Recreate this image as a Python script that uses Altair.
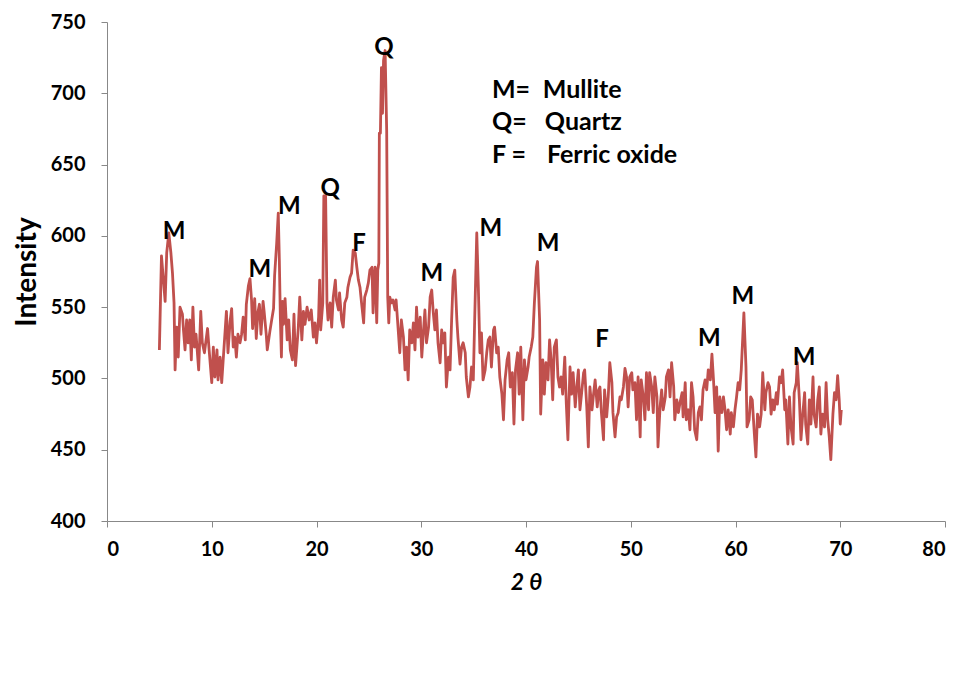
import altair as alt
import pandas as pd

two_theta = [
    5.0, 5.2, 5.55, 5.7, 5.9, 6.1, 6.25, 6.4, 6.5, 6.65, 6.8, 6.97, 7.2, 7.3, 7.45, 7.6, 7.75, 7.9,
    8.05, 8.2, 8.35, 8.5, 8.75, 8.95, 9.1, 9.3, 9.6, 9.75, 10.0, 10.15, 10.3, 10.5, 10.6, 10.8, 10.95,
    11.2, 11.4, 11.55, 11.75, 11.9, 12.05, 12.2, 12.35, 12.5, 12.7, 12.85, 13.0, 13.2, 13.3, 13.5,
    13.65, 13.8, 13.9, 14.1, 14.25, 14.4, 14.55, 14.7, 14.9, 15.0, 15.2, 15.3, 15.55, 15.7, 15.9,
    16.0, 16.2, 16.35, 16.45, 16.55, 16.65, 16.75, 16.85, 17.0, 17.2, 17.35, 17.5, 17.7, 17.85, 18.0,
    18.25, 18.4, 18.6, 18.75, 18.9, 19.1, 19.3, 19.5, 19.7, 19.85, 20.0, 20.2, 20.3, 20.4, 20.6,
    20.7, 20.87, 21.0, 21.1, 21.3, 21.45, 21.6, 21.8, 21.9, 22.1, 22.2, 22.4, 22.55, 22.7, 22.9,
    23.0, 23.2, 23.35, 23.5, 23.7, 23.85, 24.0, 24.15, 24.3, 24.5, 24.6, 24.8, 24.95, 25.1, 25.3,
    25.4, 25.5, 25.6, 25.75, 25.85, 25.95, 26.0, 26.1, 26.2, 26.3, 26.4, 26.55, 26.7, 26.8, 26.9,
    27.0, 27.15, 27.3, 27.5, 27.6, 27.8, 27.95, 28.1, 28.3, 28.45, 28.6, 28.75, 28.9, 29.1, 29.25,
    29.4, 29.55, 29.7, 29.9, 30.05, 30.2, 30.35, 30.5, 30.7, 30.85, 31.0, 31.15, 31.3, 31.45, 31.6,
    31.8, 31.95, 32.1, 32.25, 32.4, 32.6, 32.75, 32.9, 33.05, 33.2, 33.4, 33.5, 33.7, 33.85, 34.0,
    34.2, 34.3, 34.5, 34.65, 34.8, 34.97, 35.1, 35.3, 35.45, 35.6, 35.75, 35.9, 36.1, 36.25, 36.4,
    36.55, 36.7, 36.9, 37.0, 37.2, 37.35, 37.5, 37.7, 37.85, 38.0, 38.2, 38.35, 38.5, 38.7, 38.85,
    39.0, 39.2, 39.35, 39.5, 39.7, 39.85, 40.0, 40.2, 40.3, 40.5, 40.65, 40.8, 41.0, 41.1, 41.3,
    41.4, 41.6, 41.75, 41.9, 42.1, 42.25, 42.4, 42.55, 42.7, 42.9, 43.05, 43.2, 43.35, 43.5, 43.7,
    43.85, 44.0, 44.2, 44.35, 44.5, 44.7, 44.85, 45.0, 45.15, 45.3, 45.5, 45.6, 45.8, 45.95, 46.1,
    46.3, 46.45, 46.6, 46.8, 46.95, 47.06, 47.2, 47.4, 47.5, 47.7, 47.85, 48.0, 48.2, 48.3, 48.5,
    48.65, 48.8, 48.97, 49.1, 49.3, 49.45, 49.6, 49.75, 49.9, 50.1, 50.2, 50.4, 50.55, 50.7, 50.9,
    51.0, 51.2, 51.35, 51.5, 51.7, 51.8, 52.0, 52.15, 52.3, 52.5, 52.6, 52.8, 52.95, 53.1, 53.3,
    53.4, 53.6, 53.75, 53.9, 54.1, 54.2, 54.4, 54.55, 54.7, 54.9, 55.0, 55.2, 55.3, 55.5, 55.65,
    55.8, 55.95, 56.1, 56.3, 56.45, 56.6, 56.75, 56.9, 57.1, 57.25, 57.4, 57.6, 57.75, 57.9, 58.05,
    58.2, 58.35, 58.5, 58.7, 58.85, 59.0, 59.15, 59.3, 59.5, 59.6, 59.8, 59.95, 60.1, 60.25, 60.4,
    60.55, 60.8, 61.0, 61.1, 61.3, 61.45, 61.6, 61.8, 61.95, 62.1, 62.3, 62.45, 62.6, 62.8, 62.9,
    63.1, 63.25, 63.4, 63.55, 63.7, 63.9, 64.0, 64.2, 64.35, 64.5, 64.7, 64.8, 65.0, 65.15, 65.3,
    65.5, 65.6, 65.8, 65.9, 66.1, 66.25, 66.4, 66.6, 66.7, 66.9, 67.05, 67.2, 67.4, 67.5, 67.7,
    67.85, 68.0, 68.15, 68.3, 68.5, 68.65, 68.8, 68.95, 69.1, 69.3, 69.45, 69.6, 69.75, 69.9, 70.0,
    70.1,
]

intensity = [
    520, 586, 554, 588, 602, 588, 574, 553, 506, 536, 515, 550, 545, 534, 520, 541, 525, 541,
    513, 550, 522, 531, 506, 547, 525, 518, 535, 520, 497, 522, 501, 520, 499, 515, 497,
    525, 547, 518, 540, 549, 522, 529, 515, 531, 525, 531, 543, 527, 552, 565,
    570, 555, 535, 556, 528, 546, 552, 531, 554, 547, 531, 520, 533, 540, 549,
    572, 595, 616, 584, 542, 515, 554, 538, 556, 527, 541, 520, 513, 545, 509,
    534, 557, 527, 547, 538, 550, 541, 548, 529, 539, 525, 543, 569, 534, 553,
    628, 628, 553, 541, 553, 536, 557, 569, 555, 548, 560, 541, 536, 553, 557,
    564, 571, 574, 590, 588, 578, 569, 564, 553, 539, 557, 562, 567, 576, 578,
    546, 569, 578, 539, 576, 581, 672, 672, 718, 686, 723, 730, 674, 557, 539,
    557, 553, 555, 548, 555, 534, 518, 541, 529, 506, 522, 499, 534, 525, 539,
    520, 550, 529, 543, 515, 532, 548, 525, 536, 557, 562, 546, 534, 548, 525,
    511, 534, 525, 532, 494, 515, 506, 541, 571, 576, 541, 529, 510, 522, 525,
    518, 501, 487, 494, 508, 499, 541, 602, 564, 518, 532, 499, 506, 518, 527,
    529, 508, 534, 536, 518, 522, 501, 489, 471, 499, 513, 518, 494, 504, 468,
    506, 518, 489, 522, 471, 513, 499, 508, 515, 522, 529, 553, 578, 582, 541,
    475, 513, 489, 511, 499, 527, 513, 485, 522, 527, 501, 494, 501, 489, 515,
    482, 457, 508, 489, 504, 480, 494, 506, 478, 489, 504, 506, 480, 452, 494,
    478, 489, 499, 480, 492, 494, 476, 457, 492, 473, 487, 511, 497, 476, 459,
    473, 476, 487, 485, 494, 507, 501, 480, 501, 504, 492, 497, 471, 501, 459,
    499, 487, 471, 504, 478, 504, 494, 476, 501, 487, 452, 480, 492, 478, 487,
    501, 506, 487, 511, 494, 471, 485, 476, 483, 490, 473, 497, 471, 478, 464,
    497, 487, 464, 457, 476, 480, 471, 492, 499, 492, 506, 499, 517, 499, 476,
    494, 449, 487, 476, 487, 478, 464, 478, 461, 476, 466, 478, 487, 497, 492,
    506, 546, 508, 466, 471, 487, 485, 461, 445, 475, 466, 475, 504, 478, 490,
    497, 494, 475, 485, 478, 490, 482, 501, 497, 506, 478, 485, 454, 487, 466,
    454, 490, 497, 511, 485, 457, 473, 490, 468, 454, 485, 468, 501, 475, 466,
    485, 494, 461, 475, 466, 497, 471, 459, 443, 475, 490, 485, 502, 485, 468,
    478,
]

peak_labels = ["M", "M", "M", "Q", "F", "Q", "M", "M", "M", "F", "M", "M", "M"]
peak_x = [6.4, 14.6, 17.4, 21.3, 24.05, 26.45, 31.0, 36.65, 42.1, 47.25, 57.5, 60.7, 66.55]
peak_y = [603, 576, 620, 633, 594, 732, 573, 605, 594, 527, 528, 557, 514]

key_symbols = ["M=", "Q=", "F ="]
key_names = ["Mullite", "Quartz", "Ferric oxide"]
key_x_sym = [36.75, 36.75, 36.75]
key_x_name = [41.6, 41.8, 42.0]
key_y = [702, 680, 657]

FONT = "Lato"
RED = "#C0504D"

line_df = pd.DataFrame({"t": two_theta, "i": intensity})
peak_df = pd.DataFrame({"t": peak_x, "i": peak_y, "lab": peak_labels})
key_df = pd.DataFrame({"ts": key_x_sym, "tn": key_x_name, "i": key_y,
                       "sym": key_symbols, "name": key_names})

xscale = alt.Scale(domain=[0, 80], nice=False, zero=False)
yscale = alt.Scale(domain=[400, 750], nice=False, zero=False)

line = alt.Chart(line_df).mark_line(color=RED, strokeWidth=2.8, strokeJoin="round").encode(
    x=alt.X("t:Q", scale=xscale, title="2 θ",
            axis=alt.Axis(values=list(range(0, 81, 10)), tickSize=6, labelPadding=12,
                          titlePadding=12, titleFontStyle="italic")),
    y=alt.Y("i:Q", scale=yscale, title="Intensity",
            axis=alt.Axis(values=list(range(400, 751, 50)), tickSize=6, labelPadding=16,
                          titlePadding=9)),
)

peaks = alt.Chart(peak_df).mark_text(font=FONT, fontWeight="bold", fontSize=24,
                                     color="black", baseline="middle", align="center").encode(
    x=alt.X("t:Q", scale=xscale), y=alt.Y("i:Q", scale=yscale), text="lab:N")

key_sym = alt.Chart(key_df).mark_text(font=FONT, fontWeight="bold", fontSize=25,
                                      color="black", baseline="middle", align="left").encode(
    x=alt.X("ts:Q", scale=xscale), y=alt.Y("i:Q", scale=yscale), text="sym:N")

key_name = alt.Chart(key_df).mark_text(font=FONT, fontWeight="bold", fontSize=25,
                                       color="black", baseline="middle", align="left").encode(
    x=alt.X("tn:Q", scale=xscale), y=alt.Y("i:Q", scale=yscale), text="name:N")

chart = alt.layer(line, peaks, key_sym, key_name).properties(
    width=838, height=499,
    autosize=alt.AutoSizeParams(type="none"),
    padding={"left": 107, "top": 22, "right": 16, "bottom": 175},
).configure_view(stroke=None).configure_axis(
    grid=False,
    domainColor="#888888",
    tickColor="#888888",
    labelFont=FONT, labelFontWeight="bold", labelFontSize=20, labelColor="black",
    titleFont=FONT, titleFontWeight="bold", titleFontSize=23, titleColor="black",
).configure_axisY(titleFontSize=28)

chart.save("out.html", embed_options={"renderer": "svg", "actions": False})
